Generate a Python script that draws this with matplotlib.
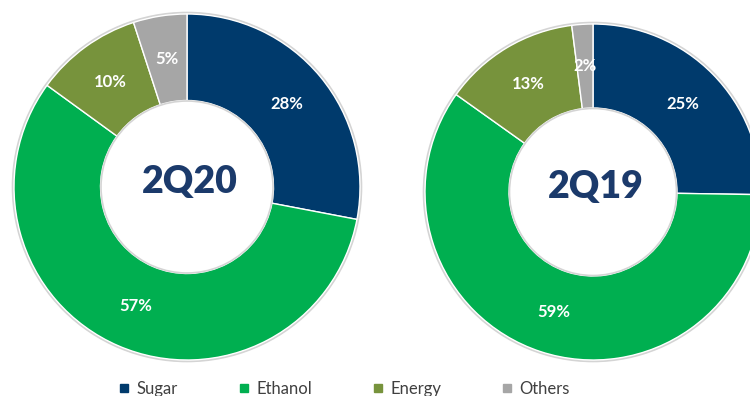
import matplotlib
matplotlib.use("Agg")
import matplotlib.pyplot as plt
from matplotlib.lines import Line2D
from matplotlib.patches import Circle

# segment data (share of revenue, %)
categories = ["Sugar", "Ethanol", "Energy", "Others"]
colors = ["#003A6C", "#00AF50", "#77933C", "#A6A6A6"]
q2_20 = [28, 57, 10, 5]
q2_19 = [25, 59, 13, 2]
titles = ["2Q20", "2Q19"]

W, H = 750, 396
fig = plt.figure(figsize=(W / 100, H / 100), dpi=100)
ax = fig.add_axes([0, 0, 1, 1])

# (center in px from top-left, outer radius px)
donuts = [((187, 187), 173), ((593, 192), 168)]

for vals, title, ((cx, cy), r) in zip([q2_20, q2_19], titles, donuts):
    center = (cx, H - cy)
    # faint outer / inner shadow rings
    ax.add_patch(Circle(center, r + 1.2, facecolor="none", edgecolor="#d4d4d4", lw=1.6, zorder=0))
    wedges, texts = ax.pie(
        vals,
        colors=colors,
        labels=[f"{v}%" for v in vals],
        labeldistance=0.75,
        startangle=90,
        counterclock=False,
        center=center,
        radius=r,
        wedgeprops=dict(width=r * 0.5, edgecolor="white", linewidth=1.0),
        textprops=dict(color="white", fontsize=12, fontweight="bold", family="Lato"),
    )
    for t in texts:
        t.set_ha("center")
        t.set_va("center")
    ax.add_patch(Circle(center, r * 0.5 - 0.5, facecolor="none", edgecolor="#d4d4d4", lw=1.2, zorder=3))
    ax.text(cx + 3, H - cy + 5, title, ha="center", va="center", fontsize=27,
            fontweight="heavy", family="Lato", color="#1B3A6B")

ax.set_xlim(0, W)
ax.set_ylim(0, H)
ax.set_aspect("equal")
ax.axis("off")

handles = [Line2D([], [], marker="s", linestyle="none", markersize=5.5,
                  markerfacecolor=c, markeredgecolor=c) for c in colors]
fig.legend(handles, categories, ncol=4, loc="upper left",
           bbox_to_anchor=(119 / W, 1 - 381 / H), frameon=False,
           borderpad=0, borderaxespad=0, handlelength=0.6, handletextpad=0.45,
           columnspacing=3.65, prop=dict(family="Lato", size=12),
           labelcolor="#404040")

fig.savefig("out.png", dpi=100)
